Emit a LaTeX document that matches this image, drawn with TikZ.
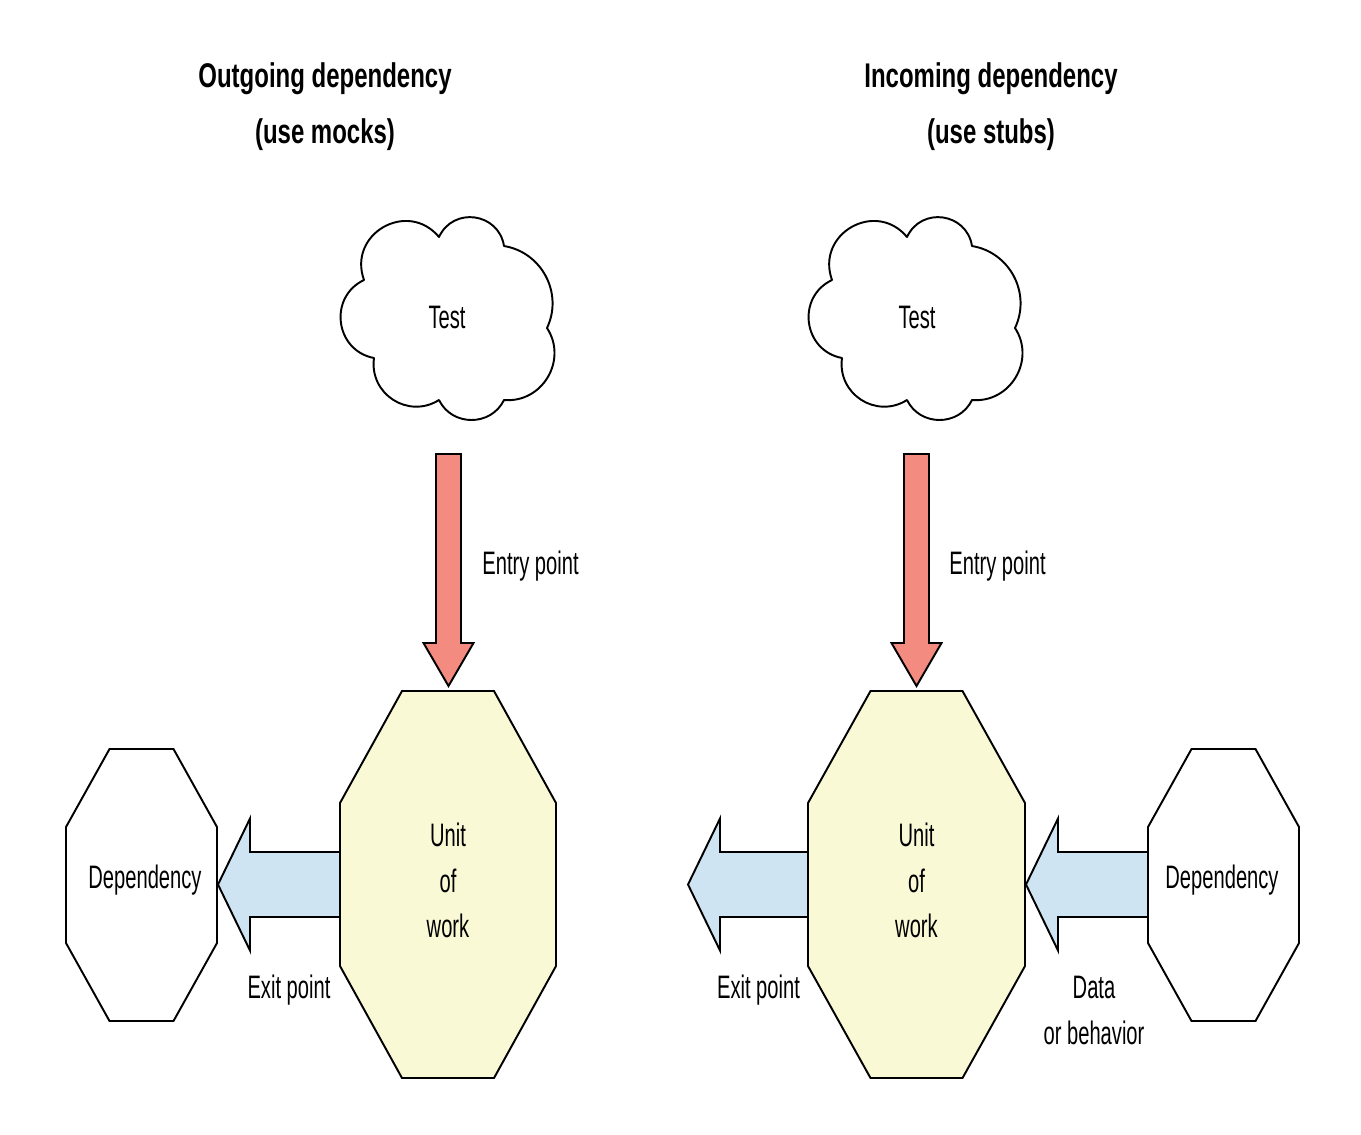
\documentclass[tikz,border=0pt]{standalone}
\usepackage{fontspec}
\setmainfont{Liberation Sans}[FakeStretch=0.62]
\newfontfamily\ttlfont{Liberation Sans}[FakeStretch=0.70]
\usetikzlibrary{calc}
\definecolor{unitY}{RGB}{250,249,214}
\definecolor{entryRed}{RGB}{243,139,128}
\definecolor{flowB}{RGB}{207,228,243}
\newcommand\drawocto[6]{% style, center, half width, top half width, half height, vertical half
  \begin{scope}[shift={(#2)}]
    \draw[#1] (-#4,-#5) -- (#4,-#5) -- (#3,-#6) -- (#3,#6) -- (#4,#5) -- (-#4,#5) -- (-#3,#6) -- (-#3,-#6) -- cycle;
  \end{scope}}
\newcommand\drawcloud[2]{% style, center
  \begin{scope}[shift={(#2)}]
    \draw[#1] (-9,-81) to[bend left=73,looseness=1.32] (56,-72)
      to[bend left=53,looseness=1.06] (99,10)
      to[bend left=64,looseness=1.17] (56,82)
      to[bend left=64,looseness=1.17] (-9,82)
      to[bend left=65,looseness=1.2] (-74,40)
      to[bend left=72,looseness=1.29] (-84,-38)
      to[bend left=80,looseness=1.45] cycle;
  \end{scope}}
\newcommand\downblockarrow[3]{% style, top, tip
  \draw[#1] ($(#2)+(-12.5,0)$) -- ($(#2)+(12.5,0)$) -- ($(#3)+(12.5,-43)$) -- ($(#3)+(25,-43)$)
    -- (#3) -- ($(#3)+(-25,-43)$) -- ($(#3)+(-12.5,-43)$) -- cycle;}
\newcommand\leftblockarrow[3]{% style, shaft end, tip
  \draw[#1] ($(#2)+(0,-32.5)$) -- ($(#3)+(32,-32.5)$) -- ($(#3)+(32,-66)$) -- (#3)
    -- ($(#3)+(32,66)$) -- ($(#3)+(32,32.5)$) -- ($(#2)+(0,32.5)$);}
\tikzset{
  outline/.style={draw=black, line width=1.1pt, line join=miter},
  unitshape/.style={outline, fill=unitY},
  depshape/.style={outline, fill=white},
  cloudshape/.style={outline, fill=white, line join=round},
  entryshape/.style={outline, fill=entryRed},
  flowshape/.style={outline, fill=flowB},
  lbl/.style={font=\fontsize{18.5}{25.8}\selectfont, inner sep=0pt},
  ttl/.style={font=\ttlfont\bfseries\fontsize{19.5}{32}\selectfont, inner sep=0pt},
}
\begin{document}
\begin{tikzpicture}[x=0.02cm, y=-0.02cm]
  \fill[white] (0,0) rectangle (1361,1134);
  \useasboundingbox (0,0) rectangle (1361,1134);

  % named reference points
  \coordinate (cloudL) at (448,318);
  \coordinate (cloudR) at (916,318);
  \coordinate (octUL) at (448,884.5);
  \coordinate (octUR) at (916.5,884.5);
  \coordinate (octDL) at (141.5,885);
  \coordinate (octDR) at (1223.5,885);
  \coordinate (entLtop) at (448.5,454);
  \coordinate (entLtip) at (448.5,686);
  \coordinate (entRtop) at (916.5,454);
  \coordinate (entRtip) at (916.5,686);
  \coordinate (exitLs) at (340,884.5);
  \coordinate (exitLt) at (218,884.5);
  \coordinate (exitRs) at (808,884.5);
  \coordinate (exitRt) at (688,884.5);
  \coordinate (dataS) at (1148,884.5);
  \coordinate (dataT) at (1026,884.5);

  % clouds
  \drawcloud{cloudshape}{cloudL}
  \drawcloud{cloudshape}{cloudR}

  % arrows
  \downblockarrow{entryshape}{entLtop}{entLtip}
  \downblockarrow{entryshape}{entRtop}{entRtip}
  \leftblockarrow{flowshape}{exitLs}{exitLt}
  \leftblockarrow{flowshape}{exitRs}{exitRt}
  \leftblockarrow{flowshape}{dataS}{dataT}

  % octagons
  \drawocto{unitshape}{octUL}{108}{46}{193.5}{81.5}
  \drawocto{unitshape}{octUR}{108.5}{46}{193.5}{81.5}
  \drawocto{depshape}{octDL}{75.5}{32}{136}{58}
  \drawocto{depshape}{octDR}{75.5}{32}{136}{58}

  % titles
  \node[ttl, anchor=base] (tL1) at (325,87) {Outgoing dependency};
  \node[ttl, anchor=base] (tL2) at (325,143) {(use mocks)};
  \node[ttl, anchor=base] (tR1) at (991,87) {Incoming dependency};
  \node[ttl, anchor=base] (tR2) at (991,143) {(use stubs)};

  % labels
  \node[lbl, anchor=base] (testL) at (447,328) {Test};
  \node[lbl, anchor=base] (testR) at (917,328) {Test};
  \node[lbl, anchor=base west] (entryL) at (482,574) {Entry point};
  \node[lbl, anchor=base west] (entryR) at (949,574) {Entry point};
  \node[lbl, align=center] (unitL) at (448,880.5) {Unit\\of\\work};
  \node[lbl, align=center] (unitR) at (916.5,880.5) {Unit\\of\\work};
  \node[lbl, anchor=base] (depL) at (145,888) {Dependency};
  \node[lbl, anchor=base] (depR) at (1222,888) {Dependency};
  \node[lbl, anchor=base] (exitL) at (289,998) {Exit point};
  \node[lbl, anchor=base] (exitR) at (758.5,998) {Exit point};
  \node[lbl, align=center] (dataR) at (1094,1010.5) {Data\\or behavior};
\end{tikzpicture}
\end{document}
